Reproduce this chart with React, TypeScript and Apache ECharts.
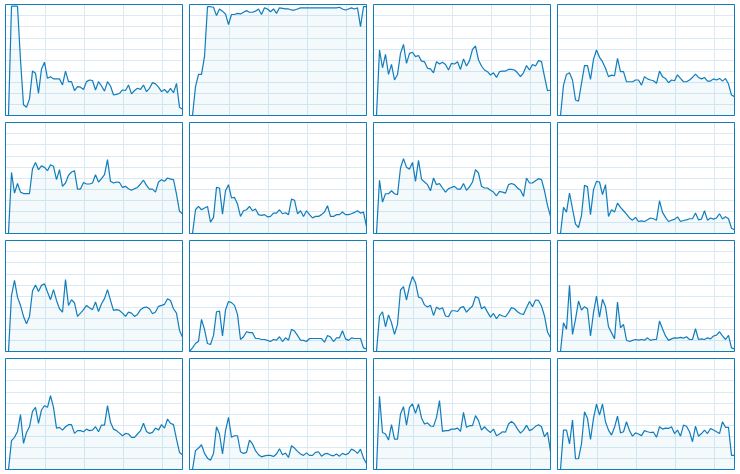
import React, { useEffect, useRef } from "react";
import * as echarts from "echarts";

const cpu0 = [0,0,98.5,98.5,98.5,50,9.6,7.5,15,40,38,20,42,48,33.5,35,33,33,33,27.5,40,30.5,30.5,22.5,26,25.5,23.5,30.5,32,31.5,23,30.5,26.6,22,30.5,26.6,18.5,19,20,23,22.5,27.5,19.5,22.5,24.5,23.5,27.5,21.5,24.5,29.6,28.5,25.5,21.5,23.5,20.5,24.5,20.5,29,7.5,5.7];
const cpu1 = [0,0,26,37,37,53,98,98,97.5,90,96,94,91.5,82,91,91,92,91.5,93,94.5,93,93,94,96,91,97,96,93.5,96,92,97,96.5,96,96,95,95,96,97,97,97,97,97,97,97,97,97,97,97,97,97,97.5,96,95,96,97,96,97,80,98,98];
const cpu2 = [0,0,59,43,55,37,46,32,37,56,64,47,56,57,53,54,49,48.5,42.5,42,38.5,48.5,46.4,48,46,41,47,46.4,48.5,41.5,51,44.6,49.4,59.6,62.6,50,44.6,41,39.5,36.4,38.5,34.3,39.5,40,40,41.5,41.5,41,38.5,35,38.5,45,41,46,44.6,49.4,48.5,35,22.3,23];
const cpu3 = [0,0,27.4,37,38.5,32,14,13,29,45,45,32.5,50.6,59,52.4,48.5,42.5,35,36.4,35.8,51.5,39.5,39.5,30.4,30.4,30.4,32,32,27.4,35,33,32,31.3,29,40,35,33.4,29.5,32,31.3,36.7,33.4,30.4,30.4,32,34.3,37.3,34.3,33,34.3,31,31,33,32,33.4,31,33.4,28.3,18.4,17];
const cpu4 = [0,0,55,36.4,45,37.3,36,36,36,58.4,64,57.5,61,59.6,56.6,62,60.5,48.5,57.5,42.5,45.5,52.4,55.4,56.6,40,40,46,44.6,44.6,45.5,53,46.4,49.4,53,66.6,47,45.5,46.4,46,41.5,42.5,40.4,38.9,40.4,41.5,44.6,48,43.4,40,40,37.3,46.4,48.5,47,50,49,48.5,35.5,20,17.8];
const cpu5 = [0,0,21.4,24.4,21.4,23,24.4,10.2,14.5,41.6,41,17.5,38.5,44,32,32.5,26.5,15.4,20.5,21.4,24.4,20.5,22,17,16.3,17,15,15.4,18.4,18.4,21.4,17.8,18.7,17,31,30,17.8,20.5,15.4,20.5,17,14,15.4,15.4,17,19.3,25,15.4,15.4,17,17,19.3,17,17,17.8,19,20.5,18.4,19.3,6.3];
const cpu6 = [0,0,48,28.3,35.8,35.8,38.5,35.8,35,59,67.5,59.6,58,64,47,66,49,46.4,44,38.5,50,44,45,41,37.3,40.4,41.5,42.5,40,40,45,38.9,42,46.4,57.5,54.5,42.5,41,41,38.9,37.3,34,38,37.3,36.4,44,45,44,41,38.9,33.4,50,45.5,45.5,47.6,49.4,48.5,38.5,25.3,15.4];
const cpu7 = [0,0,23.5,19.3,36.4,22.3,8.4,5.4,16.3,43.4,42,17,39.5,47,46.4,35,44,15.4,21.4,19.3,27.4,23.5,20.5,17.5,14,12,14.5,10.8,11.4,10.8,12.3,14,13.3,12,29.5,19,14.5,10.8,12,12.7,15,10.8,11.7,12.3,13.3,13.3,18.4,12.3,13,20.5,12,14,13,14,17.8,13,15,13.3,4.8,3.3];
const cpu8 = [0,0,50.6,64,49,41.5,31.6,25,31.6,54.5,60,54,59.6,61,53.6,46.7,55.7,46,38.5,35.5,64.8,41.5,46.7,43.7,31.6,34.6,37.7,41.5,39.5,37.7,44.6,36,43,47.6,55.7,46,37,37.7,37,34.6,31.6,35.5,34.6,31.6,33.4,37.7,39.5,40,38.5,34,35.5,40.7,41.5,42.5,47.6,46,38.5,34.6,19,13];
const cpu9 = [0,3.3,7.2,9.3,29,20,7.2,6.3,14.5,35.8,36.4,14,37.3,45,44,41.6,33.4,10.8,13.3,17.8,17,17,11.7,11.7,10.8,10.8,10,9,10.8,10.2,13.3,9,12.3,10.2,20,18.4,14.5,10.2,10,9,11.7,11.7,11.7,11.7,11.7,8.4,14.5,13,9,12.3,12.3,18.7,11.4,10,12.3,11.7,11.7,11.7,3.3,2.4];
const cpu10 = [0,0,32,35.8,22.3,33,26,15.4,24.4,55.4,58.4,46.4,59,67.5,62,49,48,42,40,41.6,32.5,40,38,39.5,32,31.3,36.7,36.7,36,39.5,40.4,35.5,38.5,41,49.4,48.2,38.5,40.4,35.5,31,34.3,29.5,33.4,32,31.3,35,39.5,38.5,35.8,34,33.4,39.5,45,40.4,46.4,46,41,32,17.5,12.3];
const cpu11 = [0,0,26,20,59.6,15.4,29,45.5,37.3,40.4,38.5,14,35,50,31,47,40.4,22.3,17,11.4,44.6,21.4,24.4,10.2,9,10,10.8,10.2,10.8,10.2,12.3,10,10.8,10.8,27.4,20.5,14,10,11.4,12.3,12,12.7,12,13.3,10.8,10.8,20.5,10.8,11.4,10.8,12.3,11.4,14,14.8,17.8,14,10.8,14.5,3.3,2.4];
const cpu12 = [0,0,26,29,34.3,49.4,23.5,33.4,38.5,52.4,56,41.6,53.6,57.5,56,66.6,56,37.3,38,35.5,38.5,40.4,40.4,32.5,35,35,34,36.4,35,35.5,38.5,34,40,40,57.5,42.5,36.4,35,32.8,30.4,32.5,32,29,29,32,35,41.6,34.3,32.5,33.4,37.3,35.5,40.4,37.3,45.5,41.6,40.4,27.4,15.4,13.3];
const cpu13 = [0,0,17,19.3,22.3,14.5,10.2,8.4,14.5,38.5,32,14,35,47,29,30.4,30.4,16,14.5,15.4,26.5,23,17,13.3,11.4,12.3,12.7,12.7,11.7,14,18.7,13.3,14.8,10.8,21.4,19.3,16.3,14,12.7,15,12.7,12.7,15.4,16,12,14,14.5,13,12.3,14,12,14.5,13.3,14.5,18.4,17,14.5,18.4,10.2,5.4];
const cpu14 = [0,0,66,33.4,32,26.5,40.4,27.4,27.4,50,56.6,40,56,59,50.6,59,46.4,41,42,39.2,38.9,47,62,34.3,35,35,36.4,36.4,37.3,34.3,51.5,38,39.5,39.5,48.5,44,35.5,38.5,35.5,33.4,36.4,30.4,32,34,33.7,41,43.4,41,36.4,32.8,35.5,39.8,35,36.4,38.9,40.4,38.5,29.5,33.4,16.3];
const cpu15 = [0,0,35.5,35.5,23,44.5,9.7,9.7,23,52,46,27,46,59,49,59,43,35.5,31,38,48,33,34,43,35,30,33,32,30.5,35,34,33.3,33.6,29,38.5,36.4,37.3,37,38.5,32.4,35.5,30,40,39,34,25,39,30,32.4,35.5,32.4,37,35.5,34,32.4,43,38,38,12.7,12.7];

const cores = [cpu0, cpu1, cpu2, cpu3, cpu4, cpu5, cpu6, cpu7, cpu8, cpu9, cpu10, cpu11, cpu12, cpu13, cpu14, cpu15];

const LINE = "#117DBB";
const GRIDLINE = "#D9EAF4";

export default function App() {
  const ref = useRef<HTMLDivElement>(null);
  useEffect(() => {
    if (!ref.current) return;
    const chart = echarts.init(ref.current, null, { renderer: "svg" });
    const grids: any[] = [];
    const xAxes: any[] = [];
    const yAxes: any[] = [];
    const series: any[] = [];
    cores.forEach((vals, k) => {
      const r = Math.floor(k / 4);
      const c = k % 4;
      grids.push({
        left: 5.5 + 184 * c,
        top: 4.5 + 118 * r,
        width: 177,
        height: 111,
        show: true,
        z: 10,
        borderColor: LINE,
        borderWidth: 1,
        backgroundColor: "transparent",
      });
      xAxes.push({
        gridIndex: k,
        type: "value",
        min: 0,
        max: vals.length - 1,
        interval: 13.1,
        axisLine: { show: false },
        axisTick: { show: false },
        axisLabel: { show: false },
        splitLine: { show: true, lineStyle: { color: GRIDLINE, width: 1 } },
      });
      yAxes.push({
        gridIndex: k,
        type: "value",
        min: 0,
        max: 100,
        interval: 10,
        axisLine: { show: false },
        axisTick: { show: false },
        axisLabel: { show: false },
        splitLine: { show: true, lineStyle: { color: GRIDLINE, width: 1 } },
      });
      series.push({
        type: "line",
        xAxisIndex: k,
        yAxisIndex: k,
        data: vals.map((v, i) => [i, v]),
        symbol: "none",
        lineStyle: { color: LINE, width: 1.2 },
        areaStyle: { color: "rgba(17,125,187,0.07)" },
        silent: true,
      });
    });
    chart.setOption({
      animation: false,
      backgroundColor: "#fff",
      grid: grids,
      xAxis: xAxes,
      yAxis: yAxes,
      series,
    });
    return () => chart.dispose();
  }, []);
  return (
    <div
      ref={ref}
      style={{ position: "fixed", left: 0, top: 0, width: 740, height: 474 }}
    />
  );
}
